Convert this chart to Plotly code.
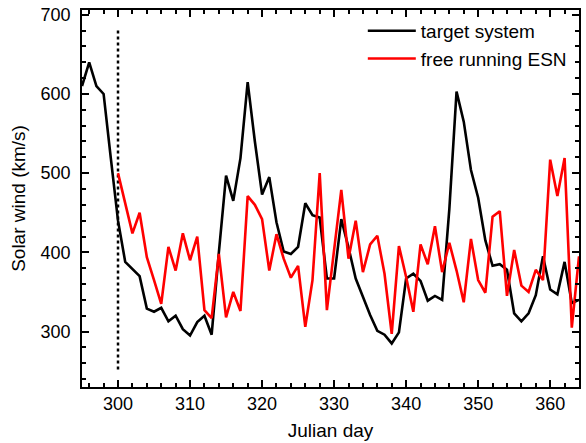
import plotly.graph_objects as go

# Data
target_days = list(range(295, 365))
target_values = [610, 640, 610, 600, 519, 440, 388, 379, 370, 329, 325, 330, 313, 320, 303, 295,
                 312, 320, 296, 400, 497, 465, 519, 615, 540, 473, 495, 438, 401, 398, 407, 462,
                 447, 444, 367, 367, 442, 406, 367, 344, 321, 301, 296, 285, 299, 367, 373, 364,
                 339, 345, 340, 455, 603, 565, 504, 469, 415, 383, 385, 378, 323, 313, 323, 346,
                 395, 353, 347, 388, 336, 340]
esn_days = list(range(300, 365))
esn_values = [500, 462, 424, 450, 394, 365, 335, 407, 377, 424, 390, 420, 327, 317, 398, 318,
              350, 326, 471, 460, 442, 377, 423, 392, 368, 383, 306, 365, 500, 327, 400, 479,
              392, 440, 375, 410, 421, 373, 297, 408, 369, 325, 410, 385, 433, 375, 412, 377,
              337, 417, 365, 349, 445, 452, 345, 403, 358, 350, 378, 365, 517, 471, 519, 305, 395]
divider_x = [300, 300]
divider_y = [252, 683]

x_ticks = [300, 310, 320, 330, 340, 350, 360]
y_ticks = [300, 400, 500, 600, 700]

FONT = "Arial, Liberation Sans, sans-serif"

fig = go.Figure()
fig.add_trace(go.Scatter(x=divider_x, y=divider_y, mode="lines",
                         line=dict(color="black", width=2.5, dash="dot"),
                         showlegend=False, hoverinfo="skip"))
fig.add_trace(go.Scatter(x=target_days, y=target_values, mode="lines", name="target system",
                         legendgroup="a",
                         line=dict(color="black", width=2.6)))
fig.add_trace(go.Scatter(x=esn_days, y=esn_values, mode="lines", name="free running ESN",
                         legendgroup="b",
                         line=dict(color="#ff0000", width=2.6)))

axis_common = dict(
    showline=True, linecolor="black", linewidth=1.5, mirror="allticks",
    ticks="inside", ticklen=7, tickwidth=1.5, tickcolor="black",
    showgrid=False, zeroline=False,
    tickfont=dict(family=FONT, size=18, color="black"),
)

fig.update_xaxes(range=[295, 364], tickvals=x_ticks,
                 title=dict(text="Julian day", font=dict(family=FONT, size=19, color="black"), standoff=10),
                 minor=dict(dtick=2, tick0=300, ticks="inside", ticklen=4, tickwidth=1.5, tickcolor="black"),
                 **axis_common)
fig.update_yaxes(range=[230, 706], tickvals=y_ticks, ticklabelstandoff=6,
                 title=dict(text="Solar wind (km/s)", font=dict(family=FONT, size=19, color="black"), standoff=10),
                 minor=dict(dtick=20, tick0=300, ticks="inside", ticklen=4, tickwidth=1.5, tickcolor="black"),
                 **axis_common)

fig.update_layout(
    width=586, height=443,
    margin=dict(l=82, r=5, t=7, b=55),
    paper_bgcolor="white", plot_bgcolor="white",
    font=dict(family=FONT, size=18, color="black"),
    legend=dict(x=0.565, y=0.995, xanchor="left", yanchor="top",
                bgcolor="rgba(0,0,0,0)", font=dict(family=FONT, size=19),
                tracegroupgap=0, itemwidth=48),
    showlegend=True,
)

fig.write_html("out.html")
